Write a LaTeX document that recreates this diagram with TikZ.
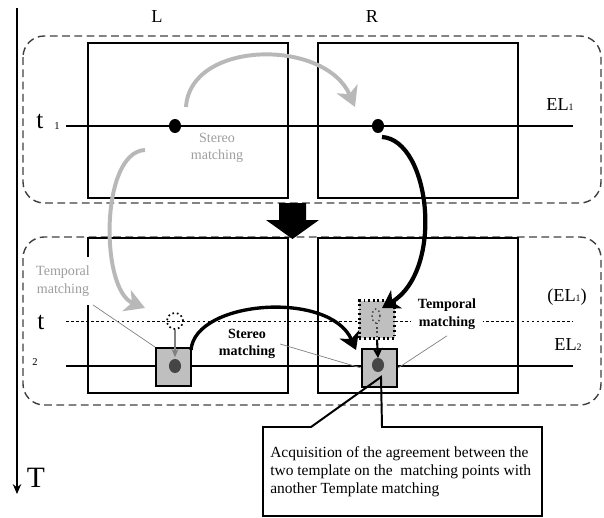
\documentclass[tikz,border=0pt]{standalone}
\usepackage{fontspec}
\setmainfont{Liberation Serif}
\usetikzlibrary{arrows.meta,shapes.geometric}

\definecolor{arcgray}{gray}{0.72}
\definecolor{textgray}{gray}{0.62}
\definecolor{boxgray}{gray}{0.75}
\definecolor{dotgray}{gray}{0.27}
\definecolor{framegray}{gray}{0.25}

\tikzset{
  frame/.style={draw=framegray, line width=1pt, dash pattern=on 5.5pt off 3.2pt, rounded corners=15pt},
  image/.style={draw, line width=1.4pt},
  epi/.style={line width=0.9pt},
  epidotted/.style={line width=0.6pt, dash pattern=on 1.8pt off 1.8pt},
  dot/.style={ellipse, fill, inner sep=0pt, minimum width=8.6pt, minimum height=10pt},
  template/.style={draw, line width=1.3pt, fill=boxgray, inner sep=0pt, minimum width=24.9pt, minimum height=27pt},
  grayarc/.style={draw=arcgray, line width=2.8pt, -{Stealth[length=14pt,width=16pt,inset=4pt]}},
  blackarc/.style={line width=3pt, -{Stealth[length=12pt,width=15pt,inset=3.5pt]}},
  leader/.style={draw=gray, line width=0.5pt},
  labeltext/.style={font=\fontsize{10}{12.5}\selectfont, align=center},
  boldtext/.style={font=\fontsize{10}{12.5}\selectfont\bfseries, align=center},
  biglabel/.style={font=\fontsize{13}{15}\selectfont},
}

\begin{document}
\begin{tikzpicture}[x=0.025cm,y=-0.025cm]
\useasboundingbox (0,0) rectangle (604,518);
% time axis
\coordinate (Ttop) at (17,8);
\coordinate (Tbot) at (17,494);
\draw[line width=1.4pt, -{Stealth[length=7pt,width=6pt]}] (Ttop) -- (Tbot);
\node[font=\fontsize{21}{24}\selectfont] (T) at (36,478) {T};
\node[biglabel] (L) at (157,17) {L};
\node[biglabel] (R) at (372,17) {R};

% frames and images
\draw[frame] (23,36) rectangle (601,203);
\draw[frame] (23,237) rectangle (601,405);
\draw[image] (88,43) rectangle (288,198);
\draw[image] (318,43) rectangle (518,198);
\draw[image] (88,238) rectangle (288,393);
\draw[image] (318,238) rectangle (518,393);

% epipolar lines
\coordinate (EL1a) at (66,126);
\coordinate (EL1b) at (573,126);
\coordinate (ELda) at (66,321);
\coordinate (ELdb) at (573,321);
\coordinate (EL2a) at (66,366);
\coordinate (EL2b) at (573,366);
\draw[epi] (EL1a) -- (EL1b);
\draw[epidotted] (ELda) -- (ELdb);
\draw[epi] (EL2a) -- (EL2b);

\node[font=\fontsize{18}{20}\selectfont, inner sep=0pt] (t1) at (40,121) {t};
\node[font=\fontsize{7.5}{9}\selectfont, inner sep=0pt] (n1) at (57,126) {1};
\node[font=\fontsize{18}{20}\selectfont, inner sep=0pt] (t2) at (41,322) {t};
\node[font=\fontsize{7.5}{9}\selectfont, inner sep=0pt] (n2) at (35,362) {2};
\node[biglabel] (EL1) at (560,105) {EL{\fontsize{7}{8}\selectfont 1}};
\node[biglabel] (EL1b) at (567,297) {(EL{\fontsize{7}{8}\selectfont 1})};
\node[biglabel] (EL2) at (568,345) {EL{\fontsize{7}{8}\selectfont 2}};

% big arrow between the two times
\fill (279,203) -- (306,203) -- (306,220) -- (319,220) -- (292.5,239) -- (266,220) -- (279,220) -- cycle;

% points at t1
\node[dot] (pL1) at (175,126) {};
\node[dot] (pR1) at (378,126) {};

% templates at t2
\node[template] (boxL) at (173.5,367) {};
\node[template, dotted, line width=1.6pt] (ghostR) at (377,319.5) {};
\node[template] (boxR) at (379.5,368) {};
\node[dot, dotgray] (pL2) at (175,366) {};
\node[dot, dotgray] (pR2) at (378,365) {};
\node[circle, draw, dotted, line width=1.2pt, minimum size=11.4pt, inner sep=0pt] (ghostL) at (175,321) {};
\draw[dotgray, dotted, line width=1pt] (376,316) ellipse (2.8pt and 5pt);
\coordinate (ghostS) at (377,323);
\coordinate (ghostE) at (377,336);
\draw[dotgray, dotted, line width=1pt] (ghostS) -- (ghostE);
\coordinate (tipR) at (378,358);
\draw[gray, line width=0.8pt, -{Stealth[length=6pt,width=5pt]}, shorten >=1pt] (ghostL) -- (pL2);
\draw[line width=1.5pt, -{Stealth[length=7pt,width=7pt,inset=2pt]}] (ghostR.south) -- (tipR);

% matching arcs
\coordinate (s1) at (186,107);
\coordinate (e1) at (355,107);
\coordinate (s2) at (145,150);
\coordinate (e2) at (145,308);
\coordinate (s3) at (382,137);
\coordinate (e3) at (382,308);
\coordinate (s4) at (191,350);
\coordinate (e4) at (356,350);
\draw[grayarc] (s1) .. controls (190,40) and (325,38) .. (e1);
\draw[grayarc] (s2) .. controls (100,152) and (100,290) .. (e2);
\draw[blackarc] (s3) .. controls (430,140) and (445,270) .. (e3);
\draw[blackarc, line width=2.4pt] (s4) .. controls (195,300) and (330,290) .. (e4);

% labels
\node[labeltext, text=textgray] (stereoA) at (217,148) {Stereo\\matching};
\node[labeltext, text=textgray, fill=white, inner xsep=2pt, inner ysep=6pt] (tempA) at (63,281) {Temporal\\matching};
\node[boldtext] (stereoB) at (247,344) {Stereo\\matching};
\node[boldtext, fill=white, inner xsep=5pt, inner ysep=4.5pt] (tempB) at (447,314) {Temporal\\matching};
\draw[leader] (tempA.south east) -- (boxL.north west);
\draw[leader] (stereoB.east) -- (boxR.west);
\draw[leader] (tempB.south) -- (boxR.east);

% callout
\draw[line width=1.4pt] (311,427) -- (381,377) -- (382,427) -- (542,427) -- (542,516) -- (263,516) -- (263,427) -- cycle;
\node[font=\fontsize{11}{12.8}\selectfont, align=left, anchor=north west, inner sep=0pt] (agree) at (270,446)
  {Acquisition of the agreement between the\\two template on the\ \ matching points with\\another Template matching};
\end{tikzpicture}
\end{document}
